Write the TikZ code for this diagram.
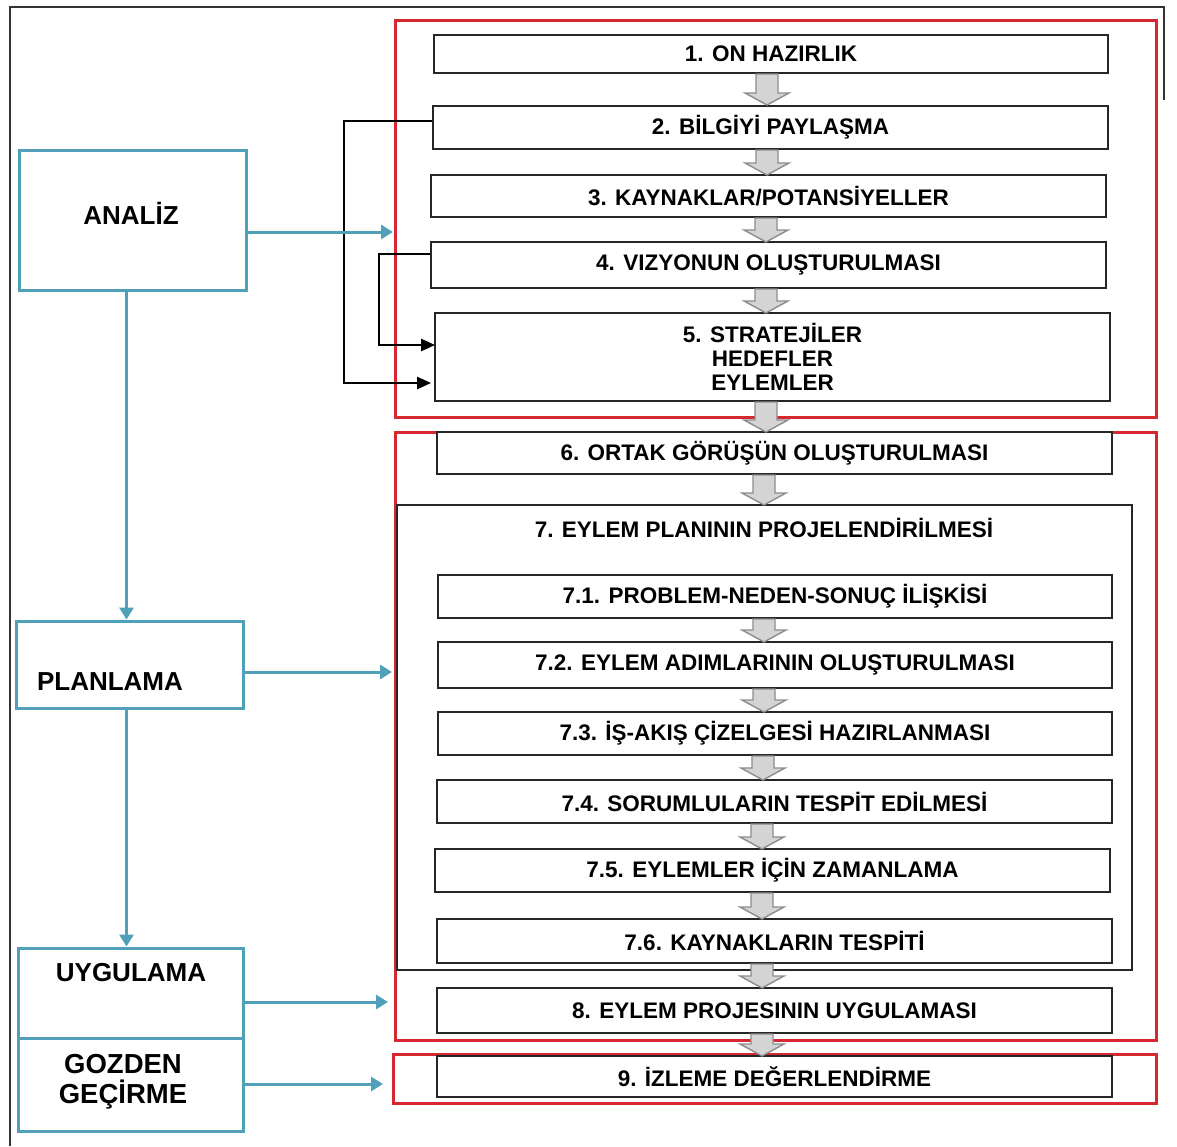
\documentclass[tikz,border=0pt]{standalone}
\usepackage{fontspec}
\setmainfont{Liberation Sans}
\usetikzlibrary{arrows.meta}
\definecolor{redc}{RGB}{215,40,50}
\definecolor{tealc}{RGB}{80,160,185}
\definecolor{grayfill}{RGB}{212,212,212}
\definecolor{grayline}{RGB}{140,140,140}
\newcommand{\grarrow}[3]{%
  \draw[grarr] (#1-11,#2) -- (#1+11,#2) -- (#1+11,#3-12) -- (#1+22,#3-12) -- (#1,#3) -- (#1-22,#3-12) -- (#1-11,#3-12) -- cycle;}
\begin{document}
\begin{tikzpicture}[x=1pt,y=-1pt,
  box/.style={draw=black!85, line width=1.8pt, fill=white, minimum width=675, inner sep=0pt,
    align=center, font=\bfseries\fontsize{22.5}{24}\selectfont},
  redbox/.style={draw=redc, line width=3pt, inner sep=0pt},
  bigbox/.style={draw=black!85, line width=1.6pt, inner sep=0pt},
  tealbox/.style={draw=tealc, line width=3pt, inner sep=0pt, minimum width=226},
  lbl/.style={font=\bfseries\fontsize{26}{30}\selectfont, inner sep=0pt, align=center},
  tarrow/.style={draw=tealc, line width=3pt, -{Triangle[length=12pt,width=14pt]}},
  blk/.style={draw=black, line width=2.4pt, -{Triangle[length=14pt,width=12pt]}},
  grarr/.style={fill=grayfill, draw=grayline, line width=1.4pt, line join=miter}
]
\useasboundingbox (0,0) rectangle (1177,1146);
% outer frame
\draw[black!80, line width=1.8pt] (10,1146) -- (10,7) -- (1164,7) -- (1164,100);

% red groups
\node[redbox, minimum width=761, minimum height=397] (ra) at (775.5,218.5) {};
\node[redbox, minimum width=761, minimum height=608] (rb) at (775.5,736) {};
\node[redbox, minimum width=763, minimum height=49] (rc) at (774.5,1078.5) {};

% big box 7
\node[bigbox, minimum width=735, minimum height=465] (b7) at (764.5,737.5) {};
\node[font=\bfseries\fontsize{22.5}{24}\selectfont, inner sep=0pt] (t7) at (764,528) {7. EYLEM PLANININ PROJELENDİRİLMESİ};

% step boxes
\node[box, minimum width=674, minimum height=38] (b1) at (771,54) {1. ON HAZIRLIK};
\node[box, minimum height=43] (b2) at (770.5,127.5) {2. BİLGİYİ PAYLAŞMA};
\node[box, minimum height=42] (b3) at (768.5,196) {3. KAYNAKLAR/POTANSİYELLER};
\node[box, minimum height=46] (b4) at (768.5,265) {4. VIZYONUN OLUŞTURULMASI};
\node[box, minimum height=88] (b5) at (772.5,357) {5. STRATEJİLER\\HEDEFLER\\EYLEMLER};
\node[box, minimum height=42] (b6) at (774.5,453) {6. ORTAK GÖRÜŞÜN OLUŞTURULMASI};
\node[box, minimum width=674, minimum height=43] (b71) at (775,596.5) {7.1. PROBLEM-NEDEN-SONUÇ İLİŞKİSİ};
\node[box, minimum width=674, minimum height=46] (b72) at (775,665) {7.2. EYLEM ADIMLARININ OLUŞTURULMASI};
\node[box, minimum width=674, minimum height=43] (b73) at (775,733.5) {7.3. İŞ-AKIŞ ÇİZELGESİ HAZIRLANMASI};
\node[box, minimum height=43] (b74) at (774.5,801.5) {7.4. SORUMLULARIN TESPİT EDİLMESİ};
\node[box, minimum height=43] (b75) at (772.5,870.5) {7.5. EYLEMLER İÇİN ZAMANLAMA};
\node[box, minimum height=44] (b76) at (774.5,941) {7.6. KAYNAKLARIN TESPİTİ};
\node[box, minimum height=45] (b8) at (774.5,1010.5) {8. EYLEM PROJESININ UYGULAMASI};
\node[box, minimum height=41] (b9) at (774.5,1076.5) {9. İZLEME DEĞERLENDİRME};

% gray block arrows
\grarrow{767}{74}{105}
\grarrow{767}{150}{175}
\grarrow{766}{218}{242}
\grarrow{766}{289}{313}
\grarrow{766}{402}{432}
\grarrow{764}{475}{505}
\grarrow{764}{619}{642}
\grarrow{764}{689}{712}
\grarrow{763}{756}{780}
\grarrow{762}{824}{849}
\grarrow{762}{893}{919}
\grarrow{762}{964}{988}
\grarrow{762}{1034}{1056}

% black feedback connectors
\draw[blk] ([yshift=6.5]b2.west) -- ++(-88,0) |- ([xshift=-3,yshift=-26]b5.west);
\draw[blk] ([yshift=11]b4.west) -- ++(-51,0) |- ([xshift=1,yshift=12]b5.west);

% left phase boxes
\node[tealbox, minimum width=227, minimum height=140] (analiz) at (132.5,220) {};
\node[tealbox, minimum width=227, minimum height=87] (planlama) at (129.5,664.5) {};
\node[tealbox, minimum width=225, minimum height=90] (uygulama) at (130.5,993) {};
\node[tealbox, minimum width=225, minimum height=93] (gozden) at (130.5,1084.5) {};
\node[lbl] (tanaliz) at (131,213) {ANALİZ};
\node[lbl] (tplan) at (110,682) {PLANLAMA};
\node[lbl] (tuyg) at (131,973) {UYGULAMA};
\node[lbl, font=\bfseries\fontsize{27.5}{30}\selectfont] (tgoz) at (123,1082) {GOZDEN\\GEÇİRME};

% teal arrows
\coordinate (ea) at (393,232);
\coordinate (ep) at (392,672);
\coordinate (eu) at (388,1002);
\coordinate (eg) at (383,1084);
\draw[tarrow] (analiz.east |- ea) -- (ea);
\draw[tarrow] (planlama.east |- ep) -- (ep);
\draw[tarrow] (uygulama.east |- eu) -- (eu);
\draw[tarrow] (gozden.east |- eg) -- (eg);
\draw[tarrow] ([xshift=-6]analiz.south) -- ([xshift=-3]planlama.north);
\draw[tarrow] ([xshift=-3]planlama.south) -- ([xshift=-4]uygulama.north);
\end{tikzpicture}
\end{document}
